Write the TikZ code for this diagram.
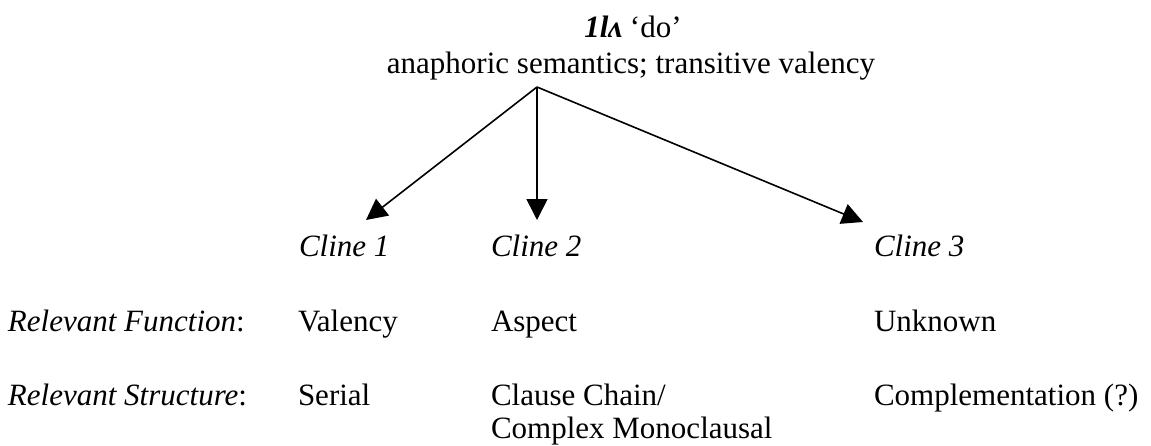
\documentclass[tikz,border=0pt]{standalone}
\usepackage{fontspec}
\setmainfont{Liberation Serif}
\usetikzlibrary{arrows.meta}
\tikzset{
  txt/.style={inner sep=0pt, outer sep=0pt, anchor=base west, font=\fontsize{31}{35}\selectfont},
  ctr/.style={inner sep=0pt, outer sep=0pt, anchor=base, font=\fontsize{31}{35}\selectfont},
  arr/.style={line width=1.6pt, -{Triangle[length=21pt,width=21pt]}}
}
\begin{document}
\begin{tikzpicture}[x=1pt,y=-1pt]
\useasboundingbox (0,0) rectangle (1151,445);
% title
\node[ctr] (t1) at (633,37) {\textbf{\textit{1lʌ}} ‘do’};
\node[ctr] (t2) at (631,73) {anaphoric semantics; transitive valency};
\coordinate (apex) at (537,87);
% cline labels
\node[txt] (c1) at (299,256) {\textit{Cline 1}};
\node[txt] (c2) at (491,256) {\textit{Cline 2}};
\node[txt] (c3) at (874,256) {\textit{Cline 3}};
\coordinate (e1) at (366,220);
\coordinate (e2) at (537,220);
\coordinate (e3) at (863,222);
\draw[arr] (apex) -- (e1);
\draw[arr] (apex) -- (e2);
\draw[arr] (apex) -- (e3);
% rows
\node[txt] (rf) at (8,331) {\textit{Relevant Function}:};
\node[txt] (f1) at (298,331) {Valency};
\node[txt] (f2) at (491,331) {Aspect};
\node[txt] (f3) at (874,331) {Unknown};
\node[txt] (rs) at (8,405) {\textit{Relevant Structure}:};
\node[txt] (s1) at (298,405) {Serial};
\node[txt] (s2) at (491,405) {Clause Chain/};
\node[txt] (s2b) at (491,438) {Complex Monoclausal};
\node[txt] (s3) at (874,405) {Complementation (?)};
\end{tikzpicture}
\end{document}
